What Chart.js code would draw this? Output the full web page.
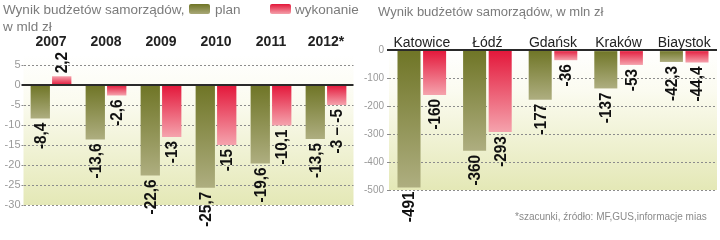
<!DOCTYPE html>
<html>
<head>
<meta charset="utf-8">
<script src="https://cdn.jsdelivr.net/npm/chart.js@4.4.1/dist/chart.umd.min.js"></script>
<style>
    body { margin: 0; width: 720px; height: 240px; background: #fff; position: relative; overflow: hidden;
           font-family: 'Liberation Sans', Arial, sans-serif; }
    .box { position: absolute; top: 0; width: 360px; height: 240px; }
    .txt { position: absolute; color: #7b7b7b; font-size: 13.5px; white-space: nowrap; line-height: 16px; }
    .swatch { position: absolute; top: 4px; width: 21px; height: 10px; border-radius: 2px; }
    .note { position: absolute; left: 515px; top: 211px; color: #8a8a8a; font-size: 10px; white-space: nowrap; }
</style>
</head>
<body>
<div class="box" style="left:0"><canvas id="yearsCanvas" width="360" height="240"></canvas></div>
<div class="box" style="left:360px"><canvas id="citiesCanvas" width="360" height="240"></canvas></div>

<div class="txt" style="left:3px;top:2px">Wynik budżetów samorządów,</div>
<div class="txt" style="left:3px;top:19px">w mld zł</div>
<div class="swatch" style="left:189px;background:linear-gradient(#6f7526,#a9a878)"></div>
<div class="txt" style="left:215px;top:2px">plan</div>
<div class="swatch" style="left:270px;background:linear-gradient(#e3173a,#f4a0aa)"></div>
<div class="txt" style="left:295px;top:2px">wykonanie</div>
<div class="txt" style="left:378px;top:4px;font-size:13px">Wynik budżetów samorządów, w mln zł</div>
<div class="note">*szacunki, źródło: MF,GUS,informacje mias</div>

<script>
// left chart: whole country, bn zl
const years = ['2007', '2008', '2009', '2010', '2011', '2012*'];
const planYears = [-8.4, -13.6, -22.6, -25.7, -19.6, -13.5];
const wykonanieYears = [2.2, -2.6, -13, -15, -10.1, -5];
const wykonanieYearsText = [null, null, null, null, null, '-3 – -5'];
const yearTicks = [5, 0, -5, -10, -15, -20, -25, -30];

// right chart: cities, mln zl
const cities = ['Katowice', 'Łódź', 'Gdańsk', 'Kraków', 'Biaystok'];
const planCities = [-491, -360, -177, -137, -42.3];
const wykonanieCities = [-160, -293, -36, -53, -44.4];
const cityTicks = [0, -100, -200, -300, -400, -500];

const OLIVE = ['#6f7526', '#aeae80'];
const RED = ['#e3173a', '#f5a3ad'];

function barFill(colors) {
    return function (ctx) {
        const chart = ctx.chart;
        if (!chart.chartArea || ctx.type !== 'data') return colors[0];
        let y0 = chart.scales.y.getPixelForValue(0);
        let y1 = chart.scales.y.getPixelForValue(ctx.raw);
        if (Math.abs(y1 - y0) < 1) return colors[0];
        let g = chart.ctx.createLinearGradient(0, y0, 0, y1);
        g.addColorStop(0, colors[0]);
        g.addColorStop(1, colors[1]);
        return g;
    };
}

const plotBackground = {
    id: 'plotBackground',
    beforeDraw(chart) {
        let a = chart.chartArea, c = chart.ctx;
        let g = c.createLinearGradient(0, a.top, 0, a.bottom);
        g.addColorStop(0, '#ffffff');
        g.addColorStop(0.3, '#fbfbf0');
        g.addColorStop(1, '#e4e8b6');
        c.save();
        c.fillStyle = g;
        c.fillRect(a.left, a.top, a.right - a.left, a.bottom - a.top);
        c.restore();
    }
};

// rotated value labels under (or above) each bar
const valueLabels = {
    id: 'valueLabels',
    afterDatasetsDraw(chart) {
        let c = chart.ctx;
        c.save();
        c.font = 'bold 16px "Liberation Sans", Arial, sans-serif';
        c.fillStyle = '#111';
        c.textBaseline = 'middle';
        chart.data.datasets.forEach(function (ds, i) {
            chart.getDatasetMeta(i).data.forEach(function (bar, j) {
                let v = ds.data[j];
                let text = (ds.texts && ds.texts[j]) || String(v).replace('.', ',');
                c.save();
                c.translate(bar.x + 1, v < 0 ? bar.y + 4 : bar.y - 3);
                c.rotate(-Math.PI / 2);
                c.scale(0.96, 1);
                c.textAlign = v < 0 ? 'right' : 'left';
                c.fillText(text, 0, 0);
                c.restore();
            });
        });
        c.restore();
    }
};

function makeChart(canvasId, cfg) {
    let ctx = document.getElementById(canvasId).getContext('2d');
    return new Chart(ctx, {
        type: 'bar',
        data: {
            labels: cfg.labels,
            datasets: [{
                label: 'plan',
                data: cfg.plan,
                backgroundColor: barFill(OLIVE),
                categoryPercentage: cfg.catPct,
                barPercentage: 0.9
            }, {
                label: 'wykonanie',
                data: cfg.wykonanie,
                texts: cfg.wykonanieText,
                backgroundColor: barFill(RED),
                categoryPercentage: cfg.catPct,
                barPercentage: 0.9
            }]
        },
        plugins: [plotBackground, valueLabels],
        options: {
            responsive: false,
            animation: false,
            devicePixelRatio: 1,
            layout: { padding: cfg.padding },
            scales: {
                x: {
                    position: 'top',
                    afterFit: function (scale) { scale.height = 30; },
                    grid: { display: false, drawTicks: false },
                    border: { display: false },
                    ticks: {
                        color: '#222',
                        padding: cfg.labelPad,
                        font: { family: "'Liberation Sans', Arial, sans-serif", size: 14,
                                weight: cfg.labelWeight, lineHeight: 1 }
                    }
                },
                y: {
                    min: cfg.min,
                    max: cfg.max,
                    afterFit: function (scale) { scale.width = cfg.axisWidth; },
                    afterBuildTicks: function (scale) {
                        scale.ticks = cfg.ticks.map(function (v) { return { value: v }; });
                    },
                    grid: {
                        tickLength: 2,
                        color: function (c) { return c.tick && c.tick.value === 0 ? '#2a2a2a' : '#8c8c8c'; },
                        lineWidth: function (c) { return c.tick && c.tick.value === 0 ? 2 : 1; },
                        tickBorderDash: function (c) { return c.tick && c.tick.value === 0 ? [] : [2, 2]; }
                    },
                    border: {
                        display: false,
                        dash: function (c) { return c.tick && c.tick.value === 0 ? [] : [2, 2]; }
                    },
                    ticks: {
                        color: '#9a9a9a',
                        padding: cfg.tickPad,
                        font: { family: "'Liberation Sans', Arial, sans-serif", size: cfg.tickSize }
                    }
                }
            },
            plugins: {
                legend: { display: false },
                tooltip: { enabled: false }
            }
        }
    });
}

makeChart('yearsCanvas', {
    labels: years,
    plan: planYears,
    wykonanie: wykonanieYears,
    wykonanieText: wykonanieYearsText,
    ticks: yearTicks,
    min: -30, max: 7.5,
    catPct: 0.78,
    axisWidth: 23.5,
    tickPad: 1,
    tickSize: 11,
    labelPad: 6,
    labelWeight: 'bold',
    padding: { top: 25, bottom: 35, left: 0, right: 6.5 }
});

makeChart('citiesCanvas', {
    labels: cities,
    plan: planCities,
    wykonanie: wykonanieCities,
    wykonanieText: null,
    ticks: cityTicks,
    min: -500, max: 4,
    catPct: 0.78,
    axisWidth: 29,
    tickPad: 3,
    tickSize: 10,
    labelPad: -1,
    labelWeight: 'normal',
    padding: { top: 19, bottom: 50, left: 0, right: 3 }
});
</script>
</body>
</html>
